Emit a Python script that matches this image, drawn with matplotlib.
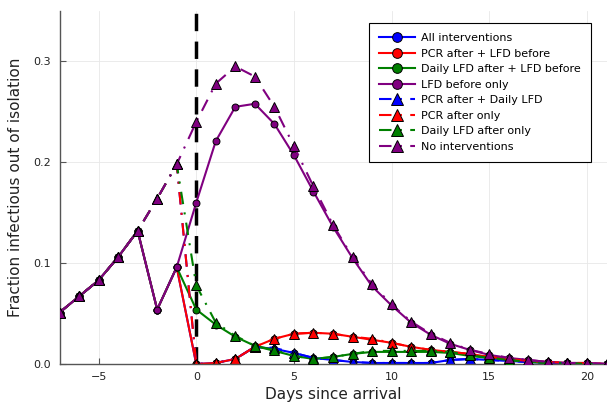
import matplotlib
matplotlib.use("Agg")
import matplotlib.pyplot as plt

days = list(range(-7, 22))

# Purple triangles: no interventions
no_interventions = [0.051, 0.067, 0.083, 0.106, 0.132, 0.164, 0.198, 0.240, 0.278, 0.295,
                    0.285, 0.255, 0.216, 0.176, 0.138, 0.106, 0.079, 0.059, 0.042, 0.030,
                    0.021, 0.014, 0.010, 0.006, 0.004, 0.002, 0.001, 0.001, 0.000]
# Purple circles: LFD before only
lfd_before_only = [0.051, 0.067, 0.083, 0.106, 0.132, 0.054, 0.096, 0.160, 0.221, 0.255,
                   0.258, 0.238, 0.207, 0.171, 0.136, 0.105, 0.077, 0.058, 0.041, 0.029,
                   0.020, 0.014, 0.009, 0.006, 0.004, 0.002, 0.001, 0.001, 0.000]
# Red circles: PCR after + LFD before
pcr_after_lfd_before = [0.051, 0.067, 0.083, 0.106, 0.132, 0.054, 0.096, 0.000, 0.001, 0.005,
                        0.017, 0.025, 0.030, 0.031, 0.030, 0.027, 0.024, 0.021, 0.017, 0.014,
                        0.012, 0.010, 0.007, 0.005, 0.003, 0.002, 0.001, 0.001, 0.000]
# Red triangles: PCR after only
pcr_after_only = [0.051, 0.067, 0.083, 0.106, 0.132, 0.164, 0.198, 0.000, 0.001, 0.005,
                  0.017, 0.025, 0.030, 0.031, 0.030, 0.027, 0.025, 0.021, 0.017, 0.014,
                  0.012, 0.010, 0.007, 0.005, 0.003, 0.002, 0.001, 0.001, 0.000]
# Green circles: Daily LFD after + LFD before
daily_lfd_lfd_before = [0.051, 0.067, 0.083, 0.106, 0.132, 0.054, 0.096, 0.054, 0.039, 0.027,
                        0.018, 0.013, 0.008, 0.005, 0.007, 0.010, 0.012, 0.012, 0.012, 0.012,
                        0.011, 0.008, 0.006, 0.004, 0.002, 0.001, 0.001, 0.000, 0.000]
# Green triangles: Daily LFD after only
daily_lfd_only = [0.051, 0.067, 0.083, 0.106, 0.132, 0.164, 0.198, 0.078, 0.041, 0.028,
                  0.018, 0.014, 0.008, 0.005, 0.007, 0.010, 0.013, 0.013, 0.013, 0.013,
                  0.012, 0.009, 0.006, 0.004, 0.002, 0.001, 0.001, 0.000, 0.000]
# Blue circles: All interventions
all_interventions = [0.051, 0.067, 0.083, 0.106, 0.132, 0.054, 0.096, 0.000, 0.001, 0.005,
                     0.017, 0.015, 0.011, 0.006, 0.004, 0.002, 0.001, 0.001, 0.001, 0.001,
                     0.004, 0.005, 0.004, 0.003, 0.002, 0.001, 0.001, 0.000, 0.000]
# Blue triangles: PCR after + Daily LFD
pcr_after_daily_lfd = [0.051, 0.067, 0.083, 0.106, 0.132, 0.164, 0.198, 0.000, 0.001, 0.005,
                       0.017, 0.016, 0.011, 0.006, 0.004, 0.002, 0.001, 0.001, 0.001, 0.001,
                       0.004, 0.005, 0.004, 0.003, 0.002, 0.001, 0.001, 0.000, 0.000]

series = [
    ("All interventions", all_interventions, "blue", "o", "-"),
    ("PCR after + LFD before", pcr_after_lfd_before, "red", "o", "-"),
    ("Daily LFD after + LFD before", daily_lfd_lfd_before, "green", "o", "-"),
    ("LFD before only", lfd_before_only, "purple", "o", "-"),
    ("PCR after + Daily LFD", pcr_after_daily_lfd, "blue", "^", "dd"),
    ("PCR after only", pcr_after_only, "red", "^", "dd"),
    ("Daily LFD after only", daily_lfd_only, "green", "^", "dd"),
    ("No interventions", no_interventions, "purple", "^", "dd"),
]

plt.rcParams['font.family'] = ['DejaVu Sans']
fig = plt.figure(figsize=(6.07, 4.05), dpi=100)
ax = fig.add_axes([59.5 / 607, 1 - 364 / 405, 547 / 607, 353 / 405])

ax.axvline(0, color="black", lw=2.5, linestyle=(0, (5, 3)), zorder=1.5)

for i, (lab, vals, col, mk, ls) in enumerate(series):
    style = "-" if ls == "-" else (0, (6, 4, 1, 4))
    ax.plot(days, vals, color=col, lw=1.5, linestyle=style, marker=mk,
            markersize=5 if mk == "o" else 6.5, markerfacecolor=col,
            markeredgecolor="black", markeredgewidth=0.7, label=lab, zorder=2 + i * 0.1)

ax.set_xlim(-7, 21)
ax.set_ylim(0, 0.35)
ax.set_xticks([-5, 0, 5, 10, 15, 20])
ax.set_xticklabels(["\u22125", "0", "5", "10", "15", "20"])
ax.set_yticks([0.0, 0.1, 0.2, 0.3])
ax.set_yticklabels(["0.0", "0.1", "0.2", "0.3"])
ax.grid(True, color="#e8e8e8", lw=0.6)
ax.set_axisbelow(True)
for s in ["top", "right"]:
    ax.spines[s].set_visible(False)
for s in ["left", "bottom"]:
    ax.spines[s].set_color("#555555")
    ax.spines[s].set_linewidth(1.0)
ax.tick_params(direction="in", length=4, width=0.8, color="#555555",
               labelsize=8, labelcolor="#222222", pad=6)

ax.set_xlabel("Days since arrival", fontsize=11, color="#222222")
ax.set_ylabel("Fraction infectious out of isolation", fontsize=11, color="#222222")
ax.xaxis.set_label_coords(0.5, -0.065)
ax.yaxis.set_label_coords(-0.067, 0.5)

leg = ax.legend(loc="upper right", bbox_to_anchor=(0.972, 0.966), borderaxespad=0,
                fontsize=8, fancybox=False, framealpha=1, edgecolor="black",
                markerscale=1.4, handlelength=3.3, handletextpad=0.55,
                labelspacing=0.5, borderpad=0.9)
leg.get_frame().set_linewidth(0.8)

fig.savefig("out.png", dpi=100)
